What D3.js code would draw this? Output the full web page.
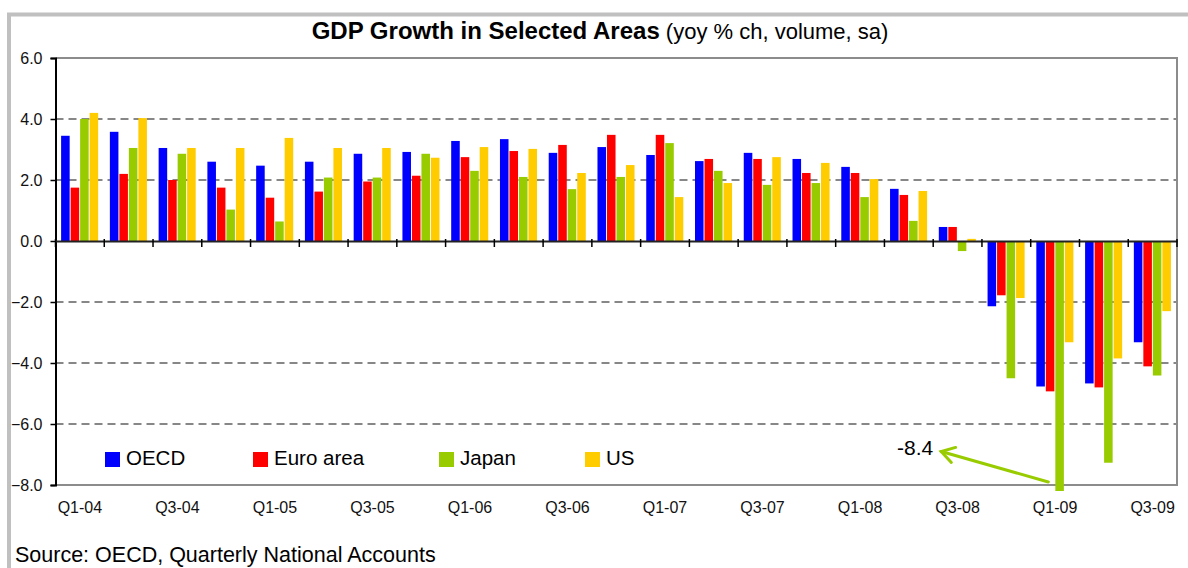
<!DOCTYPE html>
<html>
<head>
<meta charset="utf-8">
<script src="https://cdn.jsdelivr.net/npm/d3@7"></script>
<style>
  body { margin: 0; background: #fff; }
  svg { display: block; font-family: "Liberation Sans", Arial, sans-serif; }
</style>
</head>
<body>
<div class="container"></div>
<script>
const WIDTH = 1188;
const HEIGHT = 568;
const LEFT = 55.5, RIGHT = 1177, TOP = 58, BOTTOM = 485;

// data
const quarters = ["Q1-04","Q2-04","Q3-04","Q4-04","Q1-05","Q2-05","Q3-05","Q4-05",
  "Q1-06","Q2-06","Q3-06","Q4-06","Q1-07","Q2-07","Q3-07","Q4-07",
  "Q1-08","Q2-08","Q3-08","Q4-08","Q1-09","Q2-09","Q3-09"];
const tickLabels = ["Q1-04","Q3-04","Q1-05","Q3-05","Q1-06","Q3-06","Q1-07","Q3-07","Q1-08","Q3-08","Q1-09","Q3-09"];
const yTicks = [-8, -6, -4, -2, 0, 2, 4, 6];
const seriesNames = ["OECD", "Euro area", "Japan", "US"];
const seriesColors = ["#0000ff", "#ff0000", "#99cc00", "#ffcc00"];
const oecd  = [3.45,3.58,3.05,2.60,2.47,2.60,2.86,2.92,3.28,3.34,2.89,3.08,2.82,2.62,2.89,2.69,2.43,1.71,0.46,-2.14,-4.77,-4.67,-3.32];
const euro  = [1.75,2.20,2.00,1.75,1.42,1.62,1.95,2.14,2.75,2.95,3.15,3.48,3.48,2.69,2.69,2.23,2.23,1.51,0.46,-1.78,-4.93,-4.80,-4.11];
const japan = [4.00,3.05,2.86,1.03,0.64,2.08,2.08,2.86,2.30,2.10,1.70,2.10,3.21,2.30,1.84,1.90,1.44,0.66,-0.33,-4.50,-8.40,-7.27,-4.41];
const us    = [4.20,4.03,3.05,3.05,3.38,3.05,3.05,2.73,3.08,3.02,2.23,2.49,1.44,1.90,2.75,2.56,2.03,1.64,0.07,-1.87,-3.32,-3.85,-2.30];
const seriesValues = [oecd, euro, japan, us];
const annotation = { quarter: "Q1-09", series: "Japan", text: "-8.4" };

// legend layout (x of each swatch)
const LEGEND_X = [105, 253, 439, 585];

var svg = d3.select('.container').append('svg')
  .attr('width', WIDTH)
  .attr('height', HEIGHT);

svg.append('rect').attr('width', WIDTH).attr('height', HEIGHT).attr('fill', '#fff');

// outer frame
svg.append('rect')
  .attr('x', 9).attr('y', 14.5)
  .attr('width', WIDTH + 20).attr('height', HEIGHT + 20)
  .attr('fill', 'none').attr('stroke', '#c0c0c0').attr('stroke-width', 4);

var xScale = d3.scaleBand().domain(quarters).range([LEFT, RIGHT]);
var bw = xScale.bandwidth();
var xInner = d3.scaleBand().domain(seriesNames)
  .range([bw * 0.115, bw * 0.875]).paddingInner(0.1);
var yScale = d3.scaleLinear().domain([-8, 6]).range([BOTTOM, TOP]);

// title
var title = svg.append('text')
  .attr('x', 600).attr('y', 39)
  .attr('text-anchor', 'middle')
  .attr('fill', '#000');
title.append('tspan').attr('font-weight', 'bold').attr('font-size', 24)
  .text('GDP Growth in Selected Areas');
title.append('tspan').attr('font-size', 22).text(' (yoy % ch, volume, sa)');

// gridlines
svg.append('g').selectAll('line')
  .data(yTicks.filter(d => d !== 0 && d !== -8 && d !== 6))
  .enter().append('line')
  .attr('x1', LEFT).attr('x2', RIGHT)
  .attr('y1', d => yScale(d)).attr('y2', d => yScale(d))
  .attr('stroke', '#606060').attr('stroke-width', 1.3)
  .attr('stroke-dasharray', '8,5');

// plot border (top, right, bottom)
svg.append('path')
  .attr('d', 'M' + LEFT + ',' + yScale(6) + 'H' + RIGHT + 'V' + yScale(-8) + 'H' + LEFT)
  .attr('fill', 'none').attr('stroke', '#8c8c8c').attr('stroke-width', 2);

// bars
svg.append('clipPath').attr('id', 'clip')
  .append('rect')
  .attr('x', LEFT).attr('y', yScale(6))
  .attr('width', RIGHT - LEFT).attr('height', yScale(-8.2) - yScale(6));

var barsG = svg.append('g').attr('clip-path', 'url(#clip)');
seriesNames.forEach(function(name, si) {
  barsG.append('g').selectAll('rect')
    .data(seriesValues[si])
    .enter().append('rect')
    .attr('x', (d, i) => xScale(quarters[i]) + xInner(name))
    .attr('width', xInner.bandwidth())
    .attr('y', d => yScale(Math.max(0, d)))
    .attr('height', d => Math.abs(yScale(d) - yScale(0)))
    .attr('fill', seriesColors[si]);
});

// y axis
var yAxis = d3.axisLeft(yScale).tickValues(yTicks).tickFormat(d3.format('.1f'))
  .tickSize(5).tickPadding(8);
var yg = svg.append('g').attr('transform', 'translate(' + LEFT + ',0)').call(yAxis);
yg.select('.domain').attr('stroke', '#000').attr('stroke-width', 2);
yg.selectAll('.tick line').attr('stroke', '#000').attr('stroke-width', 1.5);
yg.selectAll('.tick text').attr('font-size', 16).attr('fill', '#111')
  .attr('font-family', '"Liberation Sans", Arial, sans-serif');

// x axis at zero
var xAxis = d3.axisBottom(xScale).tickSize(0).tickFormat('');
var xg = svg.append('g').attr('transform', 'translate(0,' + yScale(0) + ')').call(xAxis);
xg.select('.domain').attr('stroke', '#222').attr('stroke-width', 2);
xg.selectAll('.tick').remove();
xg.selectAll('line.bound')
  .data(quarters.map(q => xScale(q)).concat([RIGHT]))
  .enter().append('line').attr('class', 'bound')
  .attr('x1', d => d).attr('x2', d => d)
  .attr('y1', -2).attr('y2', 6)
  .attr('stroke', '#000').attr('stroke-width', 1.5);

// category labels at bottom
svg.append('g').selectAll('text')
  .data(tickLabels)
  .enter().append('text')
  .attr('x', d => xScale(d) + bw / 2)
  .attr('y', 513)
  .attr('text-anchor', 'middle')
  .attr('font-size', 16)
  .attr('fill', '#111')
  .text(d => d);

// legend
var legend = svg.append('g').selectAll('g')
  .data(seriesNames)
  .enter().append('g')
  .attr('transform', (d, i) => 'translate(' + LEGEND_X[i] + ',452)');
legend.append('rect').attr('width', 15).attr('height', 15)
  .attr('fill', (d, i) => seriesColors[i]);
legend.append('text').attr('x', 21).attr('y', 12.5)
  .attr('font-size', 20.5).attr('fill', '#000')
  .text(d => d);

// annotation
var textX = xScale("Q3-08");
svg.append('text')
  .attr('x', textX).attr('y', yScale(-7))
  .attr('text-anchor', 'end')
  .attr('font-size', 21).attr('fill', '#000')
  .text(annotation.text);
var tipX = textX + 8, tipY = yScale(-6.9);
var startX = xScale(annotation.quarter) + xInner(annotation.series) - 7;
var startY = yScale(-7.9);
var ang = Math.atan2(startY - tipY, startX - tipX);
var arrow = svg.append('g').attr('stroke', '#99cc00').attr('stroke-width', 3)
  .attr('fill', 'none').attr('stroke-linecap', 'round');
arrow.append('line').attr('x1', startX).attr('y1', startY).attr('x2', tipX).attr('y2', tipY);
arrow.append('path')
  .attr('d', 'M' + (tipX + 15 * Math.cos(ang - 0.55)) + ',' + (tipY + 15 * Math.sin(ang - 0.55)) +
    'L' + tipX + ',' + tipY +
    'L' + (tipX + 15 * Math.cos(ang + 0.55)) + ',' + (tipY + 15 * Math.sin(ang + 0.55)));

// source
svg.append('text')
  .attr('x', 15).attr('y', 562)
  .attr('font-size', 21.5).attr('fill', '#000')
  .text('Source: OECD, Quarterly National Accounts');
</script>
</body>
</html>
